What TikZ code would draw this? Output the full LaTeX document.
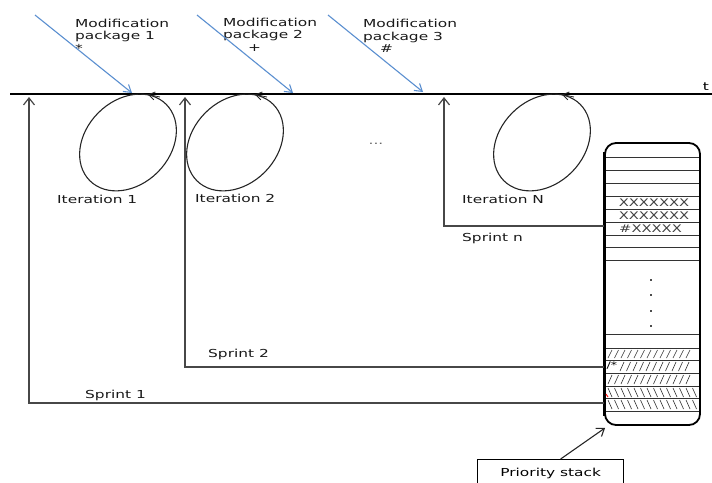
\documentclass[tikz,border=0pt]{standalone}
\usepackage{fontspec}
\newfontfamily\vfont[FakeStretch=1.4]{DejaVu Sans}
\usetikzlibrary{arrows.meta,calc}
\definecolor{modblue}{RGB}{91,143,208}
\tikzset{
  lbl/.style={inner sep=0pt, anchor=west, text=black!90},
  modlbl/.style={inner sep=0pt, anchor=north west, align=left, text=black!90, font=\vfont\fontsize{11}{12.5}\selectfont},
  modarrow/.style={draw=modblue, line width=1.1pt, -{Straight Barb[length=7pt,width=9pt]}},
  sprintarrow/.style={draw=black!72, line width=1.2pt, -{Straight Barb[length=7pt,width=11pt]}},
  loopline/.style={draw=black!85, line width=1.1pt},
  looptip/.style={draw=black!85, line width=0.8pt, -{Straight Barb[length=6pt,width=8pt]}},
  rowline/.style={draw=black!80, line width=0.8pt},
  hatch/.style={draw=black!80, line width=0.6pt},
  celltext/.style={inner sep=0pt, text=black!75, font=\vfont\fontsize{10.5}{12}\selectfont},
}
\begin{document}
\begin{tikzpicture}[x=1pt,y=-1pt, font=\vfont\fontsize{11}{13}\selectfont]
\useasboundingbox (0,0) rectangle (712,482);
\clip (0,0) rectangle (712,482);

% time line
\coordinate (t0) at (10,94);
\coordinate (t1) at (712,94);
\draw[line width=1.1pt] (t0) -- (t1);
\node[inner sep=0pt] (tlbl) at (706,87) {t};

% modification packages
\node[modlbl] (mp1) at (75,18.5) {Modification\\package 1\\*};
\node[modlbl] (mp2) at (223,17.5) {Modification\\package 2\\\hspace*{25pt}+};
\node[modlbl] (mp3) at (363,19) {Modification\\package 3\\\hspace*{17pt}\#};
\coordinate (m1s) at (35,15);  \coordinate (m1e) at (132,93);
\coordinate (m2s) at (197,15); \coordinate (m2e) at (293,93);
\coordinate (m3s) at (328,15); \coordinate (m3e) at (423,92);
\draw[modarrow] (m1s) -- (m1e);
\draw[modarrow] (m2s) -- (m2e);
\draw[modarrow] (m3s) -- (m3e);

% iteration loops
\foreach \cx in {128,235,542}{
  \draw[loopline, rotate around={45:(\cx,142.5)}] (\cx,142.5) ellipse (54 and 42);
  \draw[looptip] (\cx+32,97) -- (\cx+20,94.5);
}
\node[lbl] (it1) at (57,199) {Iteration 1};
\node[lbl] (it2) at (195,198) {Iteration 2};
\node[lbl] (itn) at (462,199) {Iteration N};
\node[inner sep=0pt, text=black!60] (dots) at (376,144) {...};

% priority stack
\node[draw=black, line width=1.8pt, rounded corners=11pt, minimum width=95pt, minimum height=282pt, inner sep=0pt] (stack) at (652.5,284) {};
\draw[line width=3.2pt] ([yshift=-10pt]stack.north west) -- ([yshift=10pt]stack.south west);
\foreach \yy in {157,170,183,196,209,222,235,247,260,334,348,360,373,386,398,411}{
  \draw[rowline] (606,\yy) -- (699,\yy);
}
\node[celltext] (x1) at (654,203) {XXXXXXX};
\node[celltext] (x2) at (654,215.5) {XXXXXXX};
\node[celltext, anchor=west] (x3) at (619,228.5) {\#XXXXX};
\foreach \yy in {279,294,310,325}{
  \fill[black!70] (650,\yy) rectangle (652,\yy+1.5);
}
% hatched rows
\foreach \xx in {608,614.5,...,688}{
  \draw[hatch] (\xx,358) -- (\xx+4,350);
  \draw[hatch] (\xx,384) -- (\xx+4,375);
}
\foreach \xx in {620,626.5,...,688}{
  \draw[hatch] (\xx,371) -- (\xx+4,362);
}
\node[inner sep=0pt, font=\vfont\fontsize{9}{10}\selectfont] (star) at (612,366) {/*};
\foreach \xx in {608,614.5,...,694}{
  \draw[hatch] (\xx,388) -- (\xx+4,397);
  \draw[hatch] (\xx,400) -- (\xx+4,409);
}
\draw[red, line width=0.9pt] (606,394) -- (608,397);

% sprints
\coordinate (s1top) at (29,97);
\coordinate (s2top) at (185,97);
\coordinate (sntop) at (444,97);
\draw[sprintarrow] (stack.west |- 0,403) -| (s1top);
\draw[sprintarrow] (stack.west |- 0,367) -| (s2top);
\draw[sprintarrow] (stack.west |- 0,226) -| (sntop);
\node[lbl] (sp1) at (85,395) {Sprint 1};
\node[lbl] (sp2) at (208,354) {Sprint 2};
\node[lbl] (spn) at (462,238) {Sprint n};

% priority stack label
\node[draw=black, line width=1.3pt, minimum width=146pt, minimum height=28pt, anchor=north west, inner sep=0pt] (ps) at (477,459) {Priority stack};
\draw[draw=black!85, line width=1.1pt, -{Straight Barb[length=7pt,width=10pt]}] ([xshift=10pt]ps.north) -- ([xshift=1pt,yshift=-2pt]stack.south west);
\end{tikzpicture}
\end{document}
